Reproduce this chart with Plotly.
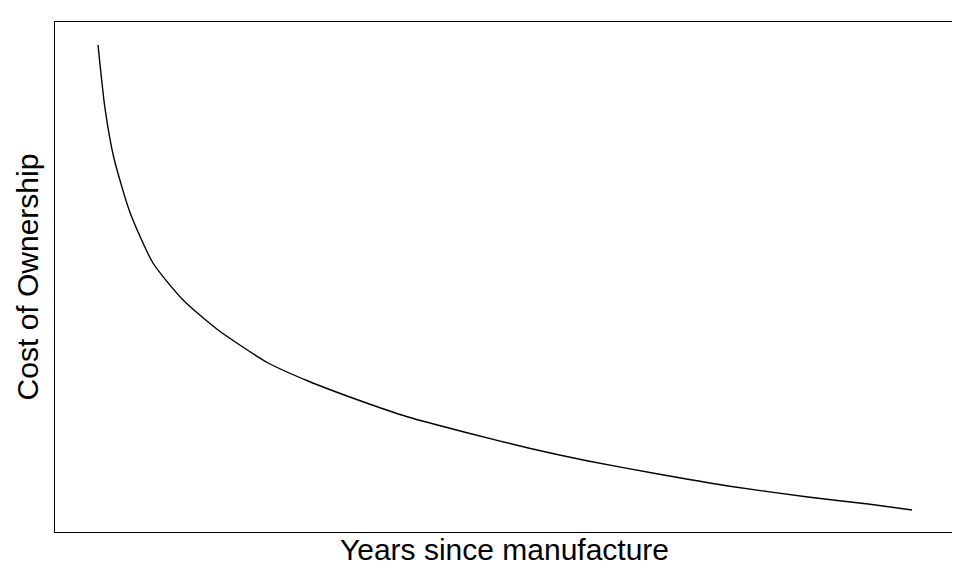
import plotly.graph_objects as go

# values (arbitrary units)
years = [0.0, 0.17, 0.39, 0.79, 1.35, 2.09, 2.95, 4.18, 5.16, 6.39, 7.62, 9.09, 10.57, 12.04, 13.76, 15.48, 17.44, 18.92, 20.0]
cost = [487, 424, 374, 319, 269, 232, 202, 169, 151, 132, 115, 99, 84, 71, 58, 46, 35, 28, 22]

fig = go.Figure(go.Scatter(x=years, y=cost, mode="lines", line=dict(color="black", width=1.4, shape="spline", smoothing=0.6)))
fig.update_layout(
    width=960, height=576, plot_bgcolor="white", paper_bgcolor="white",
    margin=dict(l=47, r=14, t=14, b=52), showlegend=False,
    font=dict(family="Liberation Sans, Arial", size=25, color="black"),
)
fig.update_xaxes(range=[-1.057, 21.03], showticklabels=False, showgrid=False, zeroline=False,
                 showline=True, mirror=True, linecolor="black", linewidth=1, automargin=False,
                 title=dict(text="Years since manufacture", standoff=6))
fig.update_yaxes(range=[0, 510], showticklabels=False, showgrid=False, zeroline=False,
                 showline=True, mirror=True, linecolor="black", linewidth=1, automargin=False,
                 title=dict(text="Cost of Ownership", standoff=6))
fig.write_html("out.html")
